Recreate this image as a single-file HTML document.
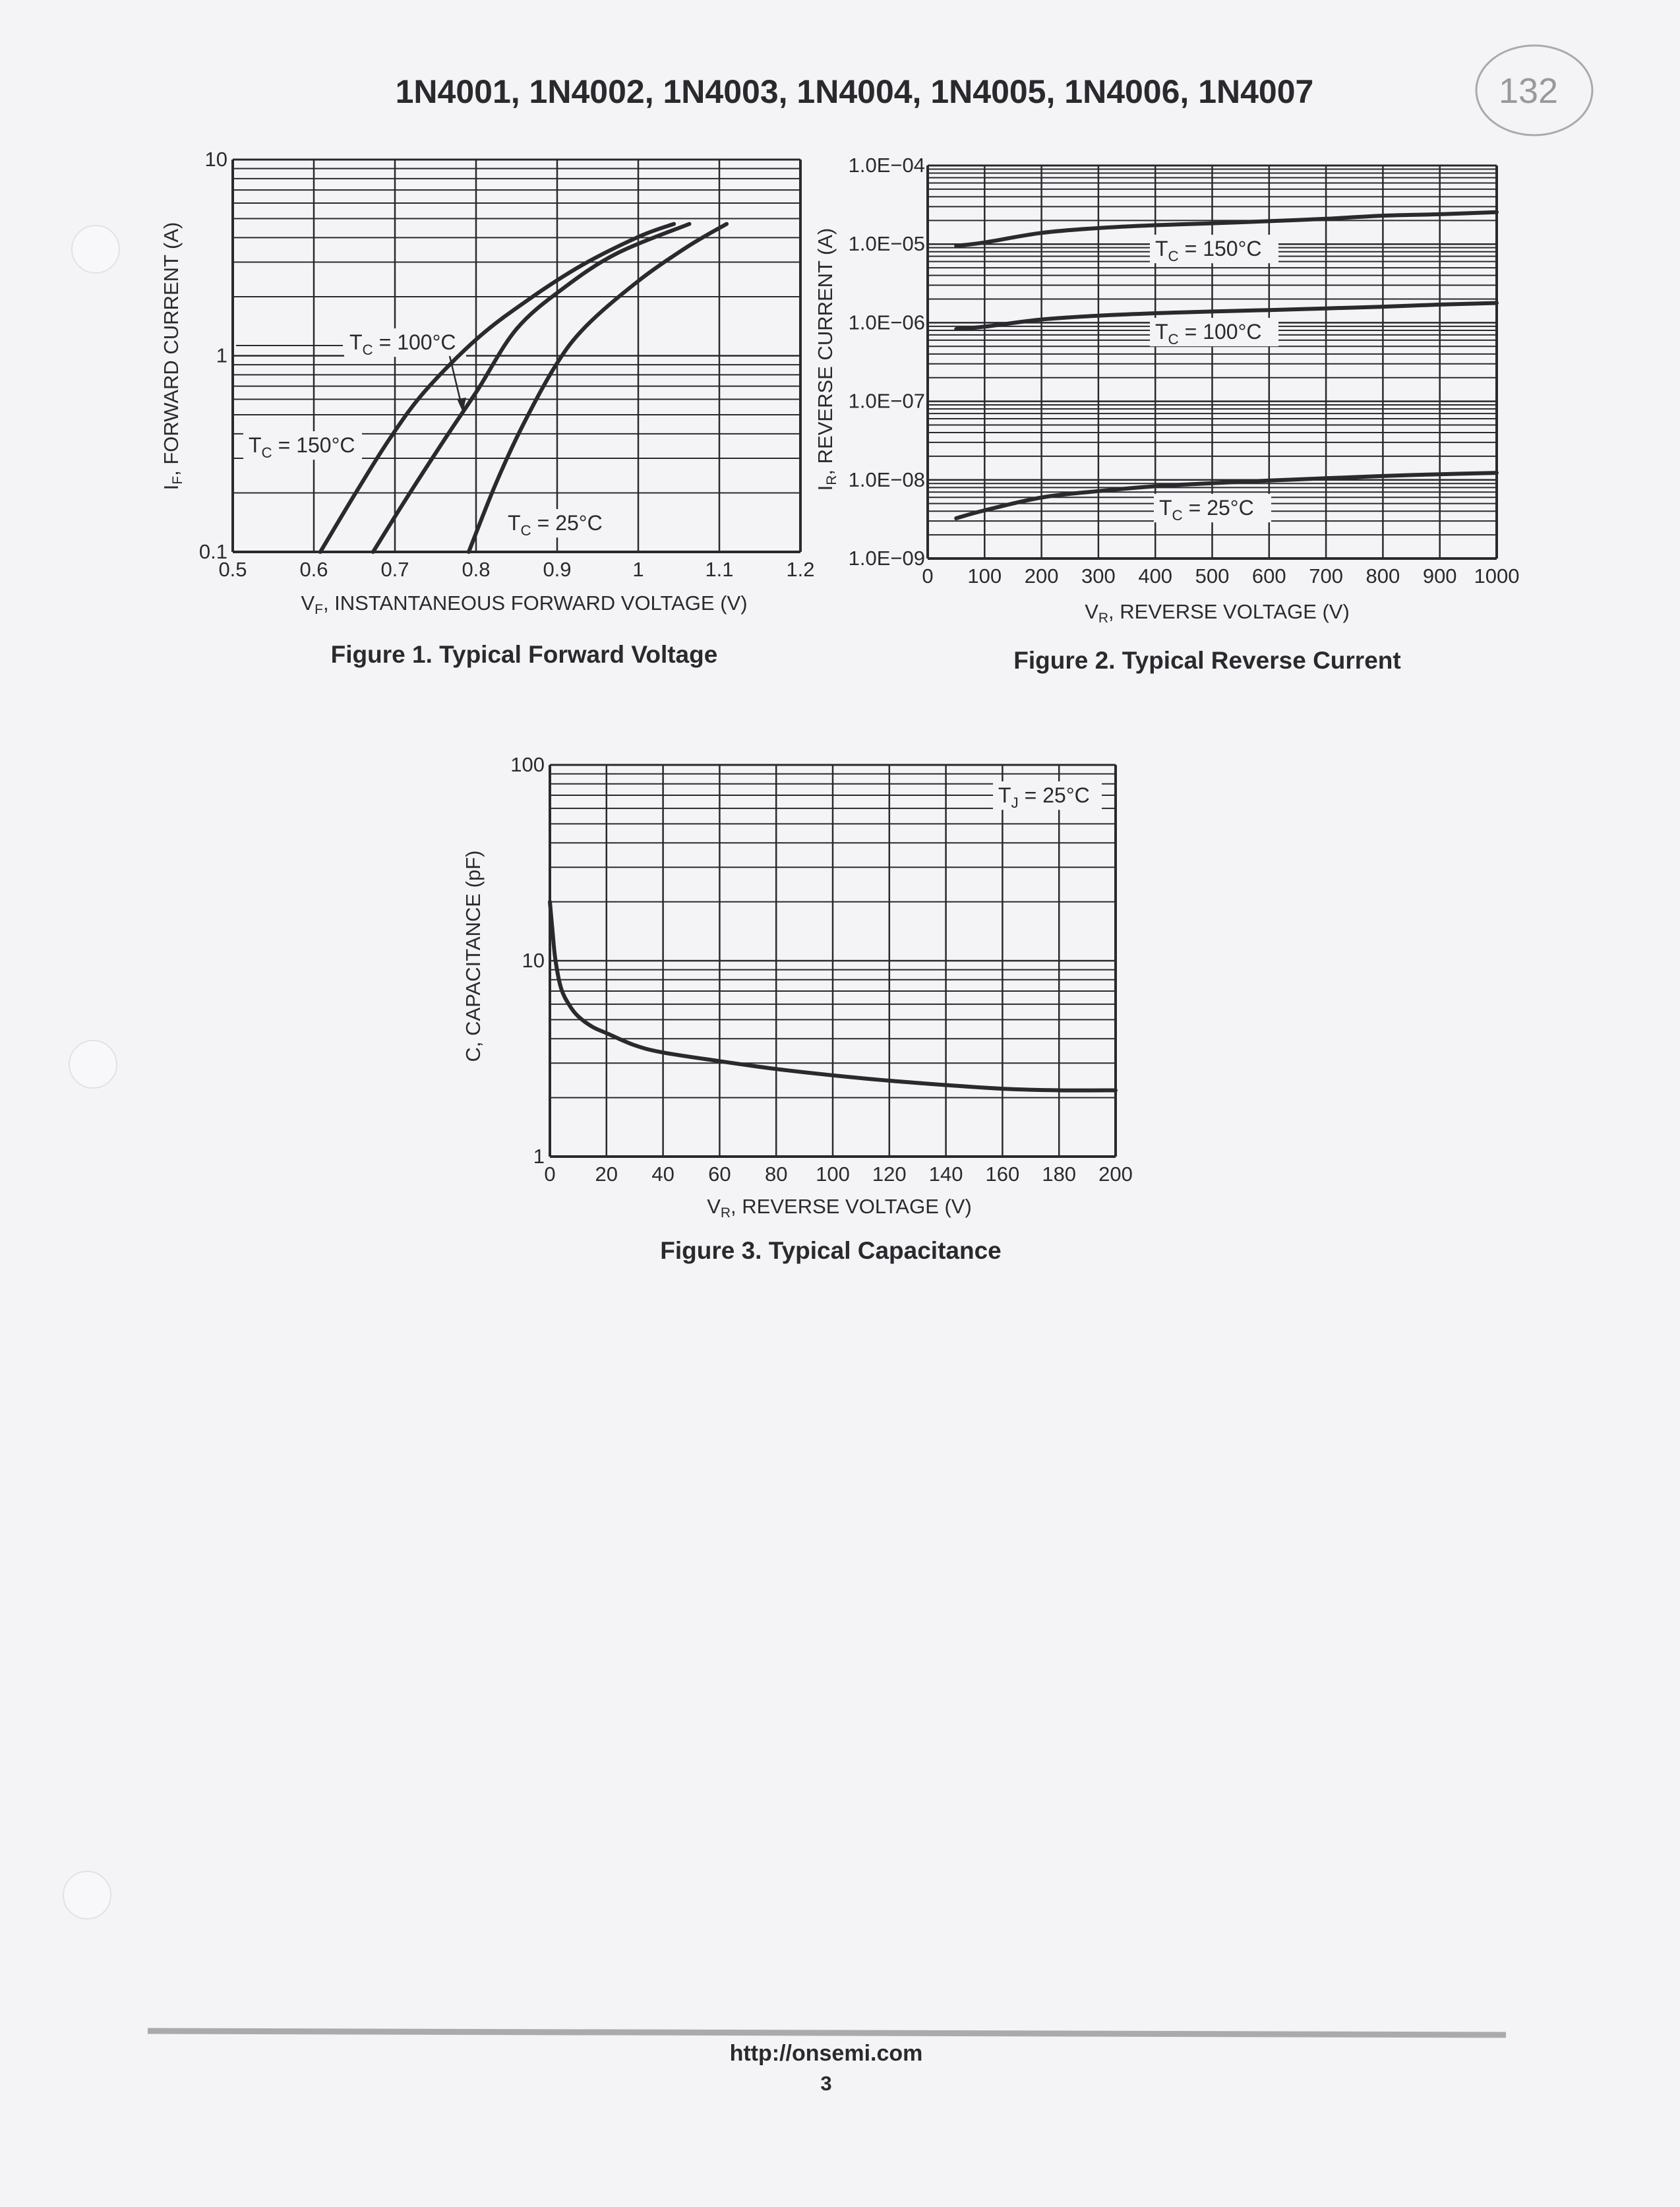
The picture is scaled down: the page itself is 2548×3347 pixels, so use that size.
<!DOCTYPE html>
<html><head><meta charset="utf-8">
<style>
html,body{margin:0;padding:0;background:#f4f4f7;}
body{width:2548px;height:3342px;position:relative;overflow:hidden;font-family:"Liberation Sans",sans-serif;}
svg text{font-family:"Liberation Sans",sans-serif;fill:#2a2a2e;}
</style></head>
<body>
<svg id="page" width="2548" height="3342" viewBox="0 0 2548 3342" xmlns="http://www.w3.org/2000/svg">
<rect x="0" y="0" width="2548" height="3342" fill="#f4f4f7"/>
<text x="1296" y="156" font-size="50" font-weight="bold" text-anchor="middle">1N4001, 1N4002, 1N4003, 1N4004, 1N4005, 1N4006, 1N4007</text>
<g>
<ellipse cx="2327" cy="137" rx="88" ry="68" fill="none" stroke="#aaa" stroke-width="3"/>
<text x="2318" y="156" font-size="54" text-anchor="middle" style="fill:#999">132</text>
</g>
<circle cx="145" cy="378" r="36" fill="#f8f8fa" stroke="#e2e2e6" stroke-width="2"/>
<circle cx="141" cy="1614" r="36" fill="#f8f8fa" stroke="#e2e2e6" stroke-width="2"/>
<circle cx="132" cy="2874" r="36" fill="#f8f8fa" stroke="#e2e2e6" stroke-width="2"/>
<g id="fig1"></g>
<g id="fig2"></g>
<g id="fig3"></g>
<text x="795" y="1005" font-size="37" font-weight="bold" text-anchor="middle">Figure 1. Typical Forward Voltage</text>
<text x="1831" y="1014" font-size="37" font-weight="bold" text-anchor="middle">Figure 2. Typical Reverse Current</text>
<text x="1260" y="1909" font-size="37" font-weight="bold" text-anchor="middle">Figure 3. Typical Capacitance</text>
<line x1="224" y1="3080" x2="2284" y2="3086" stroke="#aaa" stroke-width="9"/>
<text x="1253" y="3125" font-size="34" font-weight="bold" text-anchor="middle">http://onsemi.com</text>
<text x="1253" y="3170" font-size="31" font-weight="bold" text-anchor="middle">3</text>
</svg>
<script>
// Figure 1 data
const f1X = [0.5,0.6,0.7,0.8,0.9,1,1.1,1.2];
const f1XLabels = ["0.5","0.6","0.7","0.8","0.9","1","1.1","1.2"];
const f1YLabels = ["0.1","1","10"];
const f1V150 = [0.608,0.651,0.694,0.737,0.802,0.866,0.931,1.001,1.044];
const f1I150 = [0.1,0.198,0.38,0.66,1.23,1.95,2.9,4.05,4.7];
const f1V100 = [0.673,0.715,0.764,0.802,0.85,0.909,0.974,1.063];
const f1I100 = [0.1,0.19,0.39,0.67,1.37,2.23,3.33,4.7];
const f1V25 = [0.791,0.823,0.855,0.898,0.936,1.001,1.06,1.109];
const f1I25 = [0.1,0.216,0.42,0.89,1.42,2.42,3.58,4.7];
// Figure 2 data
const f2X = [0,100,200,300,400,500,600,700,800,900,1000];
const f2YLabels = ["1.0E\u221209","1.0E\u221208","1.0E\u221207","1.0E\u221206","1.0E\u221205","1.0E\u221204"];
const f2V = [50,100,200,300,400,500,600,700,800,900,1000];
const f2I150 = [9.5e-6,1.05e-5,1.39e-5,1.6e-5,1.74e-5,1.84e-5,1.96e-5,2.1e-5,2.3e-5,2.4e-5,2.55e-5];
const f2I100 = [8.3e-7,8.9e-7,1.1e-6,1.23e-6,1.32e-6,1.39e-6,1.45e-6,1.52e-6,1.6e-6,1.7e-6,1.78e-6];
const f2I25 = [3.25e-9,4.1e-9,5.97e-9,7.2e-9,8.3e-9,9.1e-9,9.8e-9,1.05e-8,1.12e-8,1.18e-8,1.23e-8];
// Figure 3 data
const f3X = [0,20,40,60,80,100,120,140,160,180,200];
const f3YLabels = ["1","10","100"];
const f3V = [0,1,2,4,7,10,15,20,30,40,60,80,100,120,140,160,180,200];
const f3C = [20,13.8,10,7.2,5.9,5.2,4.6,4.27,3.7,3.4,3.07,2.8,2.6,2.44,2.32,2.22,2.18,2.18];

const NS="http://www.w3.org/2000/svg";
function mk(parent,tag,attrs){const e=document.createElementNS(NS,tag);for(const k in attrs)e.setAttribute(k,attrs[k]);parent.appendChild(e);return e;}

function logChart(g,box,xTicks,xLabels,yLo,yHi,yLabels,xs){
  const sx=v=>box.l+(v-xTicks[0])/(xTicks[xTicks.length-1]-xTicks[0])*(box.r-box.l);
  const sy=v=>box.b-(Math.log10(v)-yLo)/(yHi-yLo)*(box.b-box.t);
  xTicks.forEach((v,i)=>{
    const l=mk(g,'line',{x1:sx(v),x2:sx(v),y1:box.t,y2:box.b,stroke:'#2a2a2e','stroke-width':(i==0||i==xTicks.length-1)?4:2.5});
    
    
    const t=mk(g,'text',{x:sx(v),y:box.b+xs.dy,'font-size':xs.fs,'text-anchor':'middle'});
    t.textContent=xLabels[i];
    
    
  });
  for(let d=yLo;d<yHi;d++){
    for(let m=1;m<=9;m++){
      const y=sy(m*Math.pow(10,d));
      const l=mk(g,'line',{x1:box.l,x2:box.r,y1:y,y2:y,stroke:'#2a2a2e','stroke-width':(m==1)?(d==yLo?4:2.5):2});
      
      
    }
  }
  const top=mk(g,'line',{x1:box.l,x2:box.r,y1:box.t,y2:box.t,stroke:'#2a2a2e','stroke-width':3});
  
  
  yLabels.forEach((s,i)=>{
    const t=mk(g,'text',{x:box.l-xs.yl,y:sy(Math.pow(10,yLo+i))+10,'font-size':xs.fs,'text-anchor':'end'});
    t.textContent=s;
    
    
  });
  return {sx,sy};
}
function curve(g,sc,xs,ys,name){
  const P=xs.map((x,i)=>[sc.sx(x),sc.sy(ys[i])]);
  let d='M'+P[0][0].toFixed(1)+' '+P[0][1].toFixed(1);
  for(let i=0;i<P.length-1;i++){
    const p0=P[Math.max(0,i-1)],p1=P[i],p2=P[i+1],p3=P[Math.min(P.length-1,i+2)];
    const c1=[p1[0]+(p2[0]-p0[0])/6,p1[1]+(p2[1]-p0[1])/6];
    const c2=[p2[0]-(p3[0]-p1[0])/6,p2[1]-(p3[1]-p1[1])/6];
    d+=' C'+c1.map(v=>v.toFixed(1)).join(' ')+' '+c2.map(v=>v.toFixed(1)).join(' ')+' '+p2.map(v=>v.toFixed(1)).join(' ');
  }
  const p=mk(g,'path',{d:d,fill:'none',stroke:'#2a2a2e','stroke-width':6,'stroke-linejoin':'round','stroke-linecap':'round'});
  
  
}
function label(g,x,y,w,name,main,sub,rest,fs){
  const r=mk(g,'rect',{x:x-8,y:y-fs,width:w,height:fs*1.35,fill:'#f4f4f7'});
  
  
  const t=mk(g,'text',{x:x,y:y,'font-size':fs});
  
  
  t.innerHTML=main+'<tspan font-size="'+(fs*0.7)+'" dy="8">'+sub+'</tspan><tspan dy="-8"> '+rest+'</tspan>';
}
function rotTitle(g,x,y,html,name){
  const t=mk(g,'text',{x:0,y:0,'font-size':31,'text-anchor':'middle',transform:'translate('+x+','+y+') rotate(-90)'});
  t.innerHTML=html;
  
  
}
function hTitle(g,x,y,html,name){
  const t=mk(g,'text',{x:x,y:y,'font-size':31,'text-anchor':'middle'});
  t.innerHTML=html;
  
  
}

// Figure 1
const g1=document.getElementById('fig1');
const s1=logChart(g1,{l:353,r:1214,t:242,b:837},f1X,f1XLabels,-1,1,f1YLabels,{dy:37,fs:31,yl:8});
label(g1,530,530,185,'label-tc-100c','T','C','= 100°C',32);
label(g1,377,686,180,'label-tc-150c','T','C','= 150°C',32);
label(g1,770,804,160,'label-tc-25c','T','C','= 25°C',32);
curve(g1,s1,f1V150,f1I150,'curve-150c');
curve(g1,s1,f1V100,f1I100,'curve-100c');
curve(g1,s1,f1V25,f1I25,'curve-25c');
mk(g1,'line',{x1:358,x2:520,y1:524,y2:524,stroke:'#2a2a2e','stroke-width':2});
mk(g1,'line',{x1:682,x2:700,y1:540,y2:615,stroke:'#2a2a2e','stroke-width':2.5});
mk(g1,'path',{d:'M693 605 L702 625 L707 603 Z',fill:'#2a2a2e'});
rotTitle(g1,270,540,'I<tspan font-size="21" dy="6">F</tspan><tspan dy="-6">, FORWARD CURRENT (A)</tspan>','y-axis-title');
hTitle(g1,795,925,'V<tspan font-size="21" dy="6">F</tspan><tspan dy="-6">, INSTANTANEOUS FORWARD VOLTAGE (V)</tspan>','x-axis-title');

// Figure 2
const g2=document.getElementById('fig2');
const s2=logChart(g2,{l:1407,r:2270,t:251,b:847},f2X,f2X.map(String),-9,-4,f2YLabels,{dy:37,fs:31,yl:4});
label(g2,1752,388,195,'label-tc-150c','T','C','= 150°C',32);
label(g2,1752,514,195,'label-tc-100c','T','C','= 100°C',32);
label(g2,1758,781,178,'label-tc-25c','T','C','= 25°C',32);
curve(g2,s2,f2V,f2I150,'curve-150c');
curve(g2,s2,f2V,f2I100,'curve-100c');
curve(g2,s2,f2V,f2I25,'curve-25c');
rotTitle(g2,1262,545,'I<tspan font-size="21" dy="6">R</tspan><tspan dy="-6">, REVERSE CURRENT (A)</tspan>','y-axis-title');
hTitle(g2,1846,938,'V<tspan font-size="21" dy="6">R</tspan><tspan dy="-6">, REVERSE VOLTAGE (V)</tspan>','x-axis-title');

// Figure 3
const g3=document.getElementById('fig3');
const s3=logChart(g3,{l:834,r:1692,t:1160,b:1754},f3X,f3X.map(String),0,2,f3YLabels,{dy:37,fs:31,yl:8});
label(g3,1514,1217,165,'label-tj-25c','T','J','= 25°C',32);
curve(g3,s3,f3V,f3C,'capacitance-curve');
rotTitle(g3,728,1450,'C, CAPACITANCE (pF)','y-axis-title');
hTitle(g3,1273,1840,'V<tspan font-size="21" dy="6">R</tspan><tspan dy="-6">, REVERSE VOLTAGE (V)</tspan>','x-axis-title');
</script>
</body></html>
